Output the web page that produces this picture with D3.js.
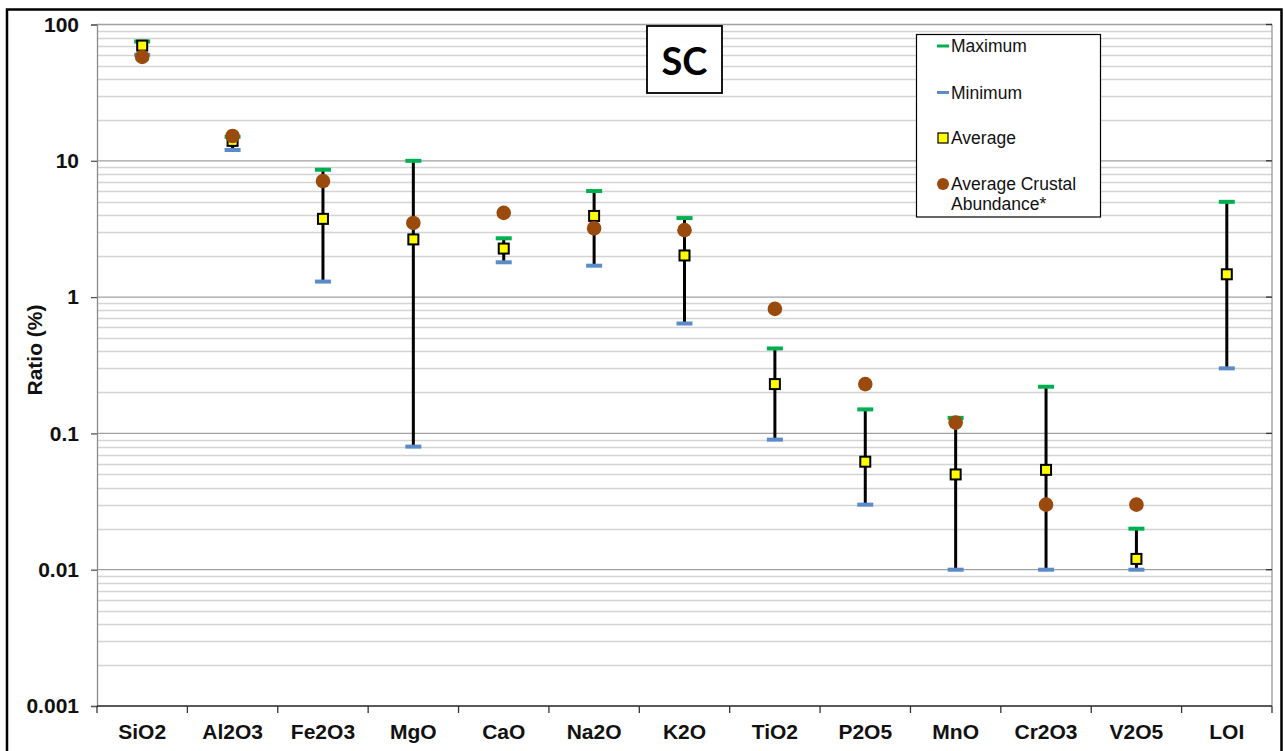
<!DOCTYPE html>
<html>
<head>
<meta charset="utf-8">
<script src="https://cdn.jsdelivr.net/npm/d3@7"></script>
<style>
  html, body { margin: 0; padding: 0; background: #fff; }
  svg { display: block; }
  text { font-family: "Liberation Sans", Arial, sans-serif; }
</style>
</head>
<body>
<svg id="chart" width="1284" height="751"></svg>
<script>
// Oxide composition: range (min–max), average, and average crustal abundance, in %
const categories = ["SiO2", "Al2O3", "Fe2O3", "MgO", "CaO", "Na2O", "K2O", "TiO2", "P2O5", "MnO", "Cr2O3", "V2O5", "LOI"];
const maxVals     = [75, 15, 8.6, 10, 2.7, 6, 3.8, 0.42, 0.15, 0.13, 0.22, 0.02, 5];
const minVals     = [60, 12, 1.3, 0.08, 1.8, 1.7, 0.64, 0.09, 0.03, 0.01, 0.01, 0.01, 0.3];
const avgVals     = [70, 14, 3.75, 2.65, 2.27, 3.94, 2.02, 0.23, 0.062, 0.05, 0.054, 0.012, 1.47];
const crustalVals = [57.8, 15.2, 7.1, 3.5, 4.15, 3.2, 3.1, 0.82, 0.23, 0.12, 0.03, 0.03, null];
const yTickValues = [100, 10, 1, 0.1, 0.01, 0.001];
const yTickLabels = ["100", "10", "1", "0.1", "0.01", "0.001"];
const legendItems = ["Maximum", "Minimum", "Average", "Average Crustal|Abundance*"];

const svg = d3.select("#chart");
const plot = { left: 97, right: 1272, top: 24.5, bottom: 706 };

const x = d3.scaleBand().domain(categories).range([plot.left, plot.right]);
const y = d3.scaleLog().domain([0.001, 100]).range([plot.bottom, plot.top]);

const colors = { max: "#00b050", min: "#5b8bc8", avg: "#ffff00", crust: "#9a4a0c" };

// outer chart frame
svg.append("rect").attr("x", 7).attr("y", 9.5).attr("width", 1274.5).attr("height", 770)
  .attr("fill", "#fff").attr("stroke", "#000").attr("stroke-width", 2.5);

// minor gridlines (2..9 within each decade)
const minor = [];
for (let d = -3; d < 2; d++) for (let k = 2; k <= 9; k++) minor.push(k * Math.pow(10, d));
svg.append("g").selectAll("line").data(minor).join("line")
  .attr("x1", plot.left).attr("x2", plot.right)
  .attr("y1", v => Math.round(y(v)) + 0.5).attr("y2", v => Math.round(y(v)) + 0.5)
  .attr("stroke", "#d4d4d4").attr("stroke-width", 1.3);

// major gridlines
svg.append("g").selectAll("line").data(yTickValues.slice(0, 5)).join("line")
  .attr("x1", plot.left).attr("x2", plot.right)
  .attr("y1", v => y(v)).attr("y2", v => y(v))
  .attr("stroke", "#a0a0a0").attr("stroke-width", 1.3);

// right plot edge with short inner ticks
svg.append("line").attr("x1", plot.right).attr("x2", plot.right)
  .attr("y1", plot.top).attr("y2", plot.bottom).attr("stroke", "#9a9a9a").attr("stroke-width", 1.3);
svg.append("g").selectAll("line").data(yTickValues.slice(0, 5)).join("line")
  .attr("x1", plot.right - 6).attr("x2", plot.right)
  .attr("y1", v => y(v)).attr("y2", v => y(v))
  .attr("stroke", "#333").attr("stroke-width", 1.3);

// y axis
const yAxis = d3.axisLeft(y).tickValues(yTickValues)
  .tickFormat((d, i) => yTickLabels[i]).tickSize(6).tickPadding(12);
const gy = svg.append("g").attr("transform", `translate(${plot.left},0)`).call(yAxis);
gy.select(".domain").attr("stroke", "#8a8a8a").attr("stroke-width", 1.3);
gy.selectAll(".tick line").attr("stroke", "#555").attr("stroke-width", 1.3);
gy.selectAll(".tick text").attr("font-size", 21).attr("font-weight", "bold")
  .attr("fill", "#111").style("font-family", "'Liberation Sans', Arial, sans-serif");

// x axis with ticks at category boundaries
svg.append("line").attr("x1", plot.left).attr("x2", plot.right)
  .attr("y1", plot.bottom).attr("y2", plot.bottom).attr("stroke", "#222").attr("stroke-width", 1.5);
const bounds = categories.map(c => x(c)).concat([plot.right]);
svg.append("g").selectAll("line").data(bounds).join("line")
  .attr("x1", b => b).attr("x2", b => b)
  .attr("y1", plot.bottom).attr("y2", plot.bottom + 7)
  .attr("stroke", "#333").attr("stroke-width", 1.3);
svg.append("g").selectAll("text").data(categories).join("text")
  .attr("x", c => x(c) + x.bandwidth() / 2).attr("y", 739)
  .attr("text-anchor", "middle").attr("font-size", 21).attr("font-weight", "bold")
  .attr("fill", "#111").text(c => c);

// y axis title
svg.append("text").attr("transform", "translate(34,350) rotate(-90)")
  .attr("text-anchor", "middle").attr("dominant-baseline", "central")
  .attr("font-size", 21).attr("font-weight", "bold").attr("fill", "#111").text("Ratio (%)");

// range lines from minimum to maximum
const cx = i => x(categories[i]) + x.bandwidth() / 2;
const idx = d3.range(categories.length);
svg.append("g").selectAll("line").data(idx).join("line")
  .attr("x1", cx).attr("x2", cx)
  .attr("y1", i => y(minVals[i])).attr("y2", i => y(maxVals[i]))
  .attr("stroke", "#000").attr("stroke-width", 3);

// maximum and minimum dashes
const dashW = 16, dashH = 4;
svg.append("g").selectAll("rect").data(idx).join("rect")
  .attr("x", i => cx(i) - dashW / 2).attr("y", i => y(maxVals[i]) - dashH / 2)
  .attr("width", dashW).attr("height", dashH).attr("fill", colors.max);
svg.append("g").selectAll("rect").data(idx).join("rect")
  .attr("x", i => cx(i) - dashW / 2).attr("y", i => y(minVals[i]) - dashH / 2)
  .attr("width", dashW).attr("height", dashH).attr("fill", colors.min);

// average squares
const sq = 10;
svg.append("g").selectAll("rect").data(idx).join("rect")
  .attr("x", i => cx(i) - sq / 2).attr("y", i => y(avgVals[i]) - sq / 2)
  .attr("width", sq).attr("height", sq)
  .attr("fill", colors.avg).attr("stroke", "#000").attr("stroke-width", 2);

// average crustal abundance circles
svg.append("g").selectAll("circle").data(idx.filter(i => crustalVals[i] != null)).join("circle")
  .attr("cx", cx).attr("cy", i => y(crustalVals[i])).attr("r", 7.3)
  .attr("fill", colors.crust);

// "SC" label box
svg.append("rect").attr("x", 647).attr("y", 26).attr("width", 75).attr("height", 67)
  .attr("fill", "#fff").attr("stroke", "#000").attr("stroke-width", 1.8);
svg.append("text").attr("x", 684.5).attr("y", 75).attr("text-anchor", "middle")
  .attr("font-size", 38).attr("font-weight", "bold").attr("fill", "#000")
  .style("font-family", "Lato, 'Open Sans', sans-serif").text("SC");

// legend
const lg = svg.append("g");
lg.append("rect").attr("x", 916.5).attr("y", 34.5).attr("width", 184).attr("height", 182.5)
  .attr("fill", "#fff").attr("stroke", "#000").attr("stroke-width", 1.2);
const legendY = [46, 92.5, 138, 184];
const iconX = 943;
lg.append("rect").attr("x", iconX - 6).attr("y", legendY[0] - 1.5).attr("width", 12).attr("height", 3).attr("fill", colors.max);
lg.append("rect").attr("x", iconX - 6).attr("y", legendY[1] - 1.5).attr("width", 12).attr("height", 3).attr("fill", colors.min);
lg.append("rect").attr("x", iconX - 5).attr("y", legendY[2] - 5).attr("width", 10).attr("height", 10)
  .attr("fill", colors.avg).attr("stroke", "#000").attr("stroke-width", 1.2);
lg.append("circle").attr("cx", iconX).attr("cy", legendY[3]).attr("r", 6).attr("fill", colors.crust);
legendItems.forEach((label, i) => {
  const t = lg.append("text").attr("x", 951).attr("y", legendY[i])
    .attr("dominant-baseline", "central").attr("font-size", 17.5).attr("fill", "#111");
  label.split("|").forEach((part, j) => {
    t.append("tspan").attr("x", 951).attr("dy", j === 0 ? 0 : 19.5).text(part);
  });
});
</script>
</body>
</html>
